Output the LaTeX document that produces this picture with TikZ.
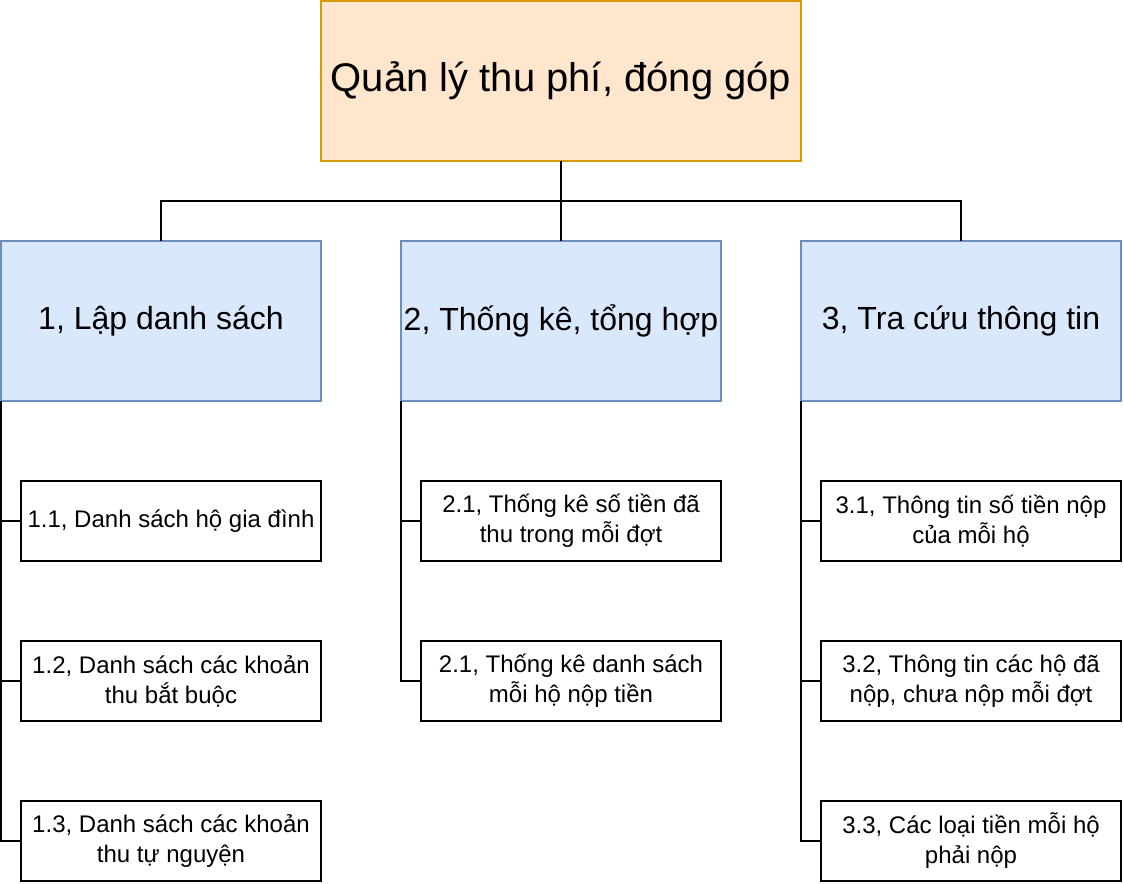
\documentclass[tikz,border=0pt]{standalone}
\usepackage{fontspec}
\setmainfont{Liberation Sans}
\definecolor{orfill}{HTML}{FFE6CC}
\definecolor{ordraw}{HTML}{D79B00}
\definecolor{blfill}{HTML}{DAE8FC}
\definecolor{bldraw}{HTML}{6C8EBF}
\begin{document}
\begin{tikzpicture}[x=0.75pt,y=-0.75pt,
  every node/.style={inner sep=0pt,outer sep=0pt,align=center},
  topbox/.style={draw=ordraw,fill=orfill,line width=1.5pt,minimum width=360pt,minimum height=120pt,font=\fontsize{30pt}{37.5pt}\selectfont},
  midbox/.style={draw=bldraw,fill=blfill,line width=1.5pt,minimum width=240pt,minimum height=120pt,font=\fontsize{24pt}{30pt}\selectfont},
  leafbox/.style={draw=black,fill=white,line width=1.5pt,minimum width=225pt,minimum height=60pt,font=\fontsize{18pt}{22.5pt}\selectfont},
  link/.style={draw=black,line width=1.5pt}]
\useasboundingbox (0,0) rectangle (1124,884);
\node[topbox] (top) at (561,81) {Quản lý thu phí, đóng góp};
\node[midbox] (m1) at (161,321) {1, Lập danh sách};
\node[midbox] (m2) at (561,321) {2, Thống kê, tổng hợp};
\node[midbox] (m3) at (961,321) {3, Tra cứu thông tin};
\node[leafbox] (a1) at (171,521) {1.1, Danh sách hộ gia đình};
\node[leafbox] (a2) at (171,681) {1.2, Danh sách các khoản\\thu bắt buộc};
\node[leafbox] (a3) at (171,841) {1.3, Danh sách các khoản\\thu tự nguyện};
\node[leafbox] (b1) at (571,521) {2.1, Thống kê số tiền đã\\thu trong mỗi đợt};
\node[leafbox] (b2) at (571,681) {2.1, Thống kê danh sách\\mỗi hộ nộp tiền};
\node[leafbox] (c1) at (971,521) {3.1, Thông tin số tiền nộp\\của mỗi hộ};
\node[leafbox] (c2) at (971,681) {3.2, Thông tin các hộ đã\\nộp, chưa nộp mỗi đợt};
\node[leafbox] (c3) at (971,841) {3.3, Các loại tiền mỗi hộ\\phải nộp};
\coordinate (hub) at (561,201);
\draw[link] (top.south) -- (hub);
\draw[link] (hub) -| (m1.north);
\draw[link] (hub) -| (m3.north);
\draw[link] (hub) -- (m2.north);
\foreach \p/\c in {m1/a1,m1/a2,m1/a3,m2/b1,m2/b2,m3/c1,m3/c2,m3/c3}
  \draw[link] (\p.south west) |- (\c.west);
\end{tikzpicture}
\end{document}
